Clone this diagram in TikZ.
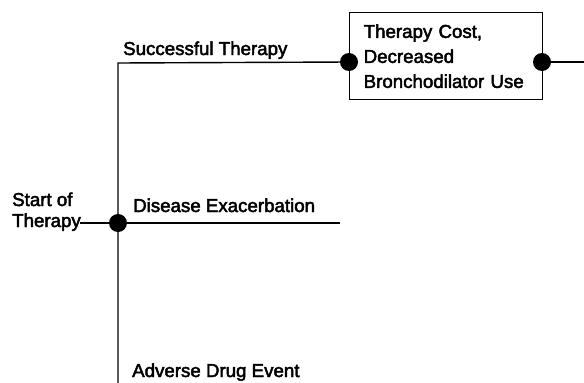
\documentclass[tikz,border=0pt]{standalone}
\usepackage{fontspec}
\setmainfont{Liberation Sans}
\newfontfamily\treefont{Liberation Sans}[FakeBold=2.5]
\begin{document}
\begin{tikzpicture}[x=1pt,y=-1pt,
        every node/.style={font=\treefont\fontsize{18.7}{21}\selectfont},
        chance/.style={circle,fill=black,inner sep=0pt,minimum size=18pt},
        branch/.style={line width=1.4pt},
        lbl/.style={anchor=base west,inner sep=0pt,align=left},
        outcome/.style={draw,line width=1.4pt,anchor=north west,align=left,
            font=\treefont\fontsize{18.7}{25}\selectfont,
            text width=165pt,inner xsep=14pt,inner ysep=0pt,
            minimum height=87pt}
    ]
        \useasboundingbox (0,0) rectangle (584,383);
        % tree
        \node[chance] (start) at (118,223) {};
        \coordinate (entry) at (80,223);
        \coordinate (succ) at (118,63);
        \coordinate (disease) at (340,223);
        \coordinate (adverse) at (118,383);
        \node[outcome] (cost) at (349,12)
            {Therapy Cost,\\Decreased\\Bronchodilator Use};
        \node[chance] (costin) at (349,62) {};
        \node[chance] (costout) at (542,62) {};
        \coordinate (exit) at (584,62);
        \draw[branch] (entry) -- (start.center);
        \draw[branch] (start.center) -- (disease);
        \draw[branch] (adverse) -- (succ) -- (costin.center);
        \draw[branch] (costout.center) -- (exit);
        % labels
        \node[lbl] at (12,227) {Start of\\Therapy};
        \node[lbl] at (123,55) {Successful Therapy};
        \node[lbl] at (133,212) {Disease Exacerbation};
        \node[lbl] at (132,377) {Adverse Drug Event};
    \end{tikzpicture}
\end{document}
